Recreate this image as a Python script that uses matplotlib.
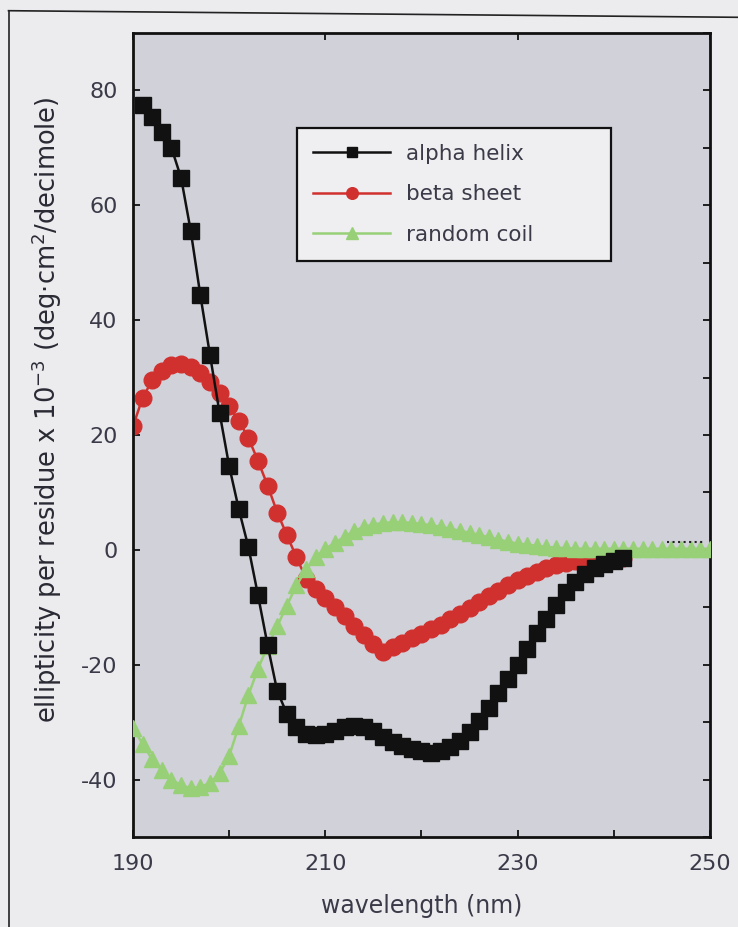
import matplotlib
matplotlib.use('Agg')
import matplotlib.pyplot as plt
from matplotlib.ticker import MultipleLocator
from matplotlib.lines import Line2D

# CD spectra (1 nm steps)
wl_alpha = list(range(191, 242))
alpha_helix = [77.4, 75.3, 72.7, 70.0, 64.8, 55.6, 44.4, 34.0, 23.9, 14.6,
               7.1, 0.5, -7.9, -16.6, -24.6, -28.5, -30.8, -32.0, -32.2, -32.0,
               -31.5, -30.9, -30.6, -30.8, -31.6, -32.6, -33.4, -34.1, -34.7, -35.1,
               -35.3, -35.0, -34.3, -33.2, -31.8, -29.8, -27.5, -25.0, -22.5, -20.0,
               -17.2, -14.5, -12.0, -9.6, -7.4, -5.6, -4.2, -3.2, -2.4, -1.9,
               -1.5]

wl_beta = list(range(190, 242))
beta_sheet = [21.5, 26.5, 29.5, 31.2, 32.2, 32.4, 31.9, 30.8, 29.2, 27.3,
              25.0, 22.5, 19.5, 15.5, 11.2, 6.5, 2.6, -1.3, -5.0, -6.8,
              -8.4, -10.0, -11.6, -13.2, -14.8, -16.4, -17.8, -17.0, -16.2, -15.4,
              -14.6, -13.8, -13.0, -12.1, -11.1, -10.1, -9.1, -8.1, -7.1, -6.2,
              -5.3, -4.5, -3.8, -3.2, -2.7, -2.3, -2.0, -1.8, -1.6, -1.5,
              -1.5, -1.4]

wl_coil = list(range(190, 251))
random_coil = [-31.0, -33.8, -36.5, -38.4, -40.0, -41.0, -41.5, -41.3, -40.6, -38.9,
               -35.9, -30.7, -25.3, -20.7, -16.8, -13.3, -9.7, -6.2, -3.4, -1.3,
               0.2, 1.2, 2.3, 3.3, 4.0, 4.4, 4.7, 4.8, 4.8, 4.7,
               4.5, 4.3, 4.0, 3.7, 3.3, 3.0, 2.6, 2.2, 1.8, 1.4,
               1.1, 0.9, 0.7, 0.5, 0.4, 0.3, 0.2, 0.2, 0.2, 0.2,
               0.2, 0.2, 0.2, 0.2, 0.2, 0.2, 0.2, 0.2, 0.2, 0.2,
               0.2]

# little dotted bit near the right edge
wl_tail = [245.5, 246.5, 247.5, 248.5, 249.5]
tail = [1.4, 1.4, 1.4, 1.4, 1.4]

x_ticks = [190, 210, 230, 250]
y_ticks = [-40, -20, 0, 20, 40, 60, 80]

txt = '#3a3a48'
plt.rcParams['font.family'] = ['DejaVu Sans']

fig = plt.figure(figsize=(7.38, 9.27), dpi=100, facecolor='#ececef')
ax = fig.add_axes([0.1802, 0.0971, 0.7818, 0.8673])
ax.set_facecolor('#d1d1da')

l_alpha, = ax.plot(wl_alpha, alpha_helix, '-s', color='#111111', lw=1.8,
                   ms=11, mec='#111111', zorder=4, label='alpha helix')
l_beta, = ax.plot(wl_beta, beta_sheet, '-o', color='#d0312f', lw=1.8,
                  ms=12, mec='#d0312f', zorder=2, label='beta sheet')
l_coil, = ax.plot(wl_coil, random_coil, '-^', color='#98d078', lw=1.8,
                  ms=11.5, mec='#98d078', zorder=3, label='random coil')
ax.plot(wl_tail, tail, ':', color='#222222', lw=1.5, zorder=5)

ax.set_xlim(190, 250)
ax.set_ylim(-50, 90)
ax.set_xticks(x_ticks)
ax.set_xticklabels([str(v) for v in x_ticks])
ax.xaxis.set_minor_locator(MultipleLocator(10))
ax.set_yticks(y_ticks)
ax.set_yticklabels([str(v) for v in y_ticks])
ax.yaxis.set_minor_locator(MultipleLocator(10))

ax.tick_params(which='both', direction='in', length=5, width=1.3, colors='#111111',
               labelcolor=txt, labelsize=16)
ax.tick_params(axis='x', which='major', top=True, pad=12)
ax.tick_params(axis='x', which='minor', top=False)
ax.tick_params(axis='y', which='major', right=True, pad=11)
ax.tick_params(axis='y', which='minor', left=False, right=True)
for s in ax.spines.values():
    s.set_linewidth(2.0)
    s.set_color('#111111')

ax.set_xlabel('wavelength (nm)', fontsize=17, color=txt)
ax.xaxis.set_label_coords(0.5, -0.071)
ax.set_ylabel('ellipticity per residue x 10$^{-3}$ (deg·cm$^2$/decimole)',
              fontsize=18.5, color='#2a2a35')
ax.yaxis.set_label_coords(-0.12, 0.531)

leg = ax.legend(handles=[l_alpha, l_beta, l_coil], loc='upper left',
                bbox_to_anchor=(0.284, 0.719, 0.544, 0.163), mode='expand',
                borderaxespad=0, numpoints=1, markerscale=0.7,
                fontsize=15.5, handlelength=3.6, handletextpad=0.7,
                borderpad=0.75, labelspacing=0.95, fancybox=False,
                framealpha=1, facecolor='#efeff1', edgecolor='#111111')
leg.get_frame().set_linewidth(1.6)
for t in leg.get_texts():
    t.set_color(txt)

# scanned page frame
fig.add_artist(Line2D([8.5 / 738, 8.5 / 738], [0, 1 - 10.7 / 927],
                      transform=fig.transFigure, color='#222222', lw=1.2))
fig.add_artist(Line2D([8.5 / 738, 1], [1 - 10.7 / 927, 1 - 17.3 / 927],
                      transform=fig.transFigure, color='#222222', lw=1.2))

fig.savefig('out.png', dpi=100, facecolor=fig.get_facecolor())
